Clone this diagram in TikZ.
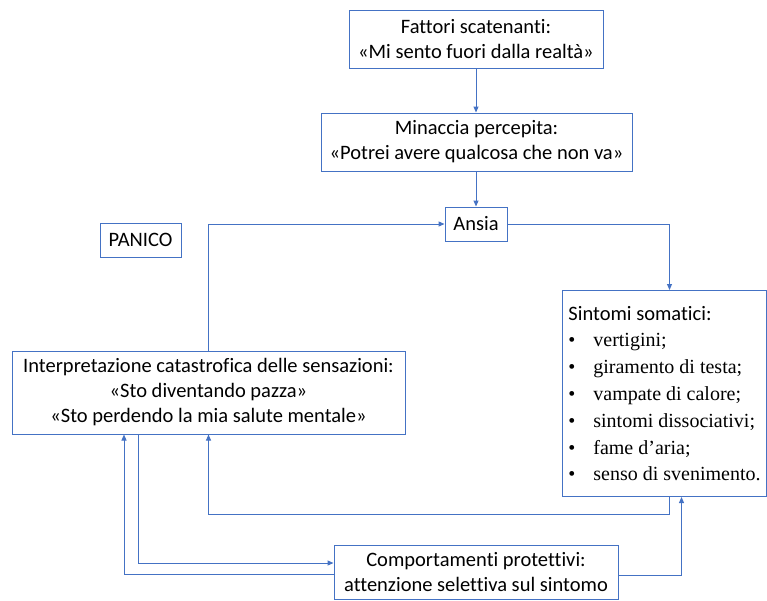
\documentclass[tikz,border=0pt]{standalone}
\usepackage{fontspec}
\setmainfont[RawFeature=-liga]{Carlito}
\newfontfamily\timesf{Liberation Serif}
\usetikzlibrary{arrows.meta,calc}
\definecolor{lb}{HTML}{4472C4}
\newcommand{\itm}[1]{{\timesf\fontsize{20}{26.8}\selectfont\makebox[25pt][l]{•}#1}}
\begin{document}
\begin{tikzpicture}[x=1pt,y=-1pt,
  box/.style={draw=lb, line width=1pt, inner sep=0pt, align=center, text=black,
              font=\fontsize{20.5}{25}\selectfont},
  conn/.style={draw=lb, line width=1pt},
  arr/.style={conn, -{Triangle[length=6pt,width=5pt]}}]
\useasboundingbox (0,0) rectangle (767,600);

\node[box, minimum width=254pt, minimum height=58pt] (fatt) at (476,39)
  {Fattori scatenanti:\\«Mi sento fuori dalla realtà»};
\node[box, minimum width=311pt, minimum height=58pt] (min) at (476.5,142)
  {Minaccia percepita:\\«Potrei avere qualcosa che non va»};
\node[box, minimum width=62pt, minimum height=34pt] (ansia) at (476,224) {Ansia};
\node[box, minimum width=81pt, minimum height=34pt] (panico) at (140.5,240) {PANICO};
\node[box, minimum width=393pt, minimum height=83pt] (interp) at (208.5,392.5)
  {Interpretazione catastrofica delle sensazioni:\\«Sto diventando pazza»\\«Sto perdendo la mia salute mentale»};
\node[box, anchor=north west, minimum width=204pt, minimum height=206pt,
      align=left, font=\fontsize{20.5}{26.8}\selectfont] (sint) at (562,290)
  {Sintomi somatici:\\
   \itm{vertigini;}\\
   \itm{giramento di testa;}\\
   \itm{vampate di calore;}\\
   \itm{sintomi dissociativi;}\\
   \itm{fame d’aria;}\\
   \itm{senso di svenimento.}};
\node[box, minimum width=284pt, minimum height=54pt] (comp) at (476,572)
  {Comportamenti protettivi:\\attenzione selettiva sul sintomo};

\coordinate (lowA) at (0,514);

\draw[arr] (fatt.south) -- (fatt.south |- min.north);
\draw[arr] (ansia.north |- min.south) -- (ansia.north);
\draw[arr] (interp.north) |- (ansia.west);
\draw[arr] (ansia.east) -| ([xshift=5pt]sint.south |- sint.north);
\draw[arr] ([xshift=5pt]sint.south) -- ([xshift=5pt]sint.south |- lowA) -| (interp.south);
\draw[arr] ([xshift=-70.5pt]interp.south) |- ([yshift=9pt]comp.west);
\draw[arr] ([yshift=-2pt]comp.west) -| ([xshift=-84.5pt]interp.south);
\draw[arr] ([yshift=-3pt]comp.east) -| ([xshift=17pt]sint.south);
\end{tikzpicture}
\end{document}
